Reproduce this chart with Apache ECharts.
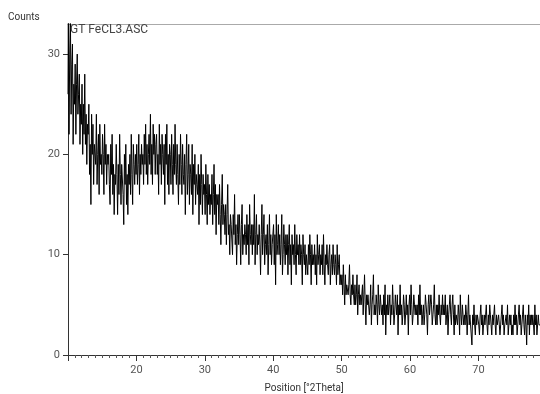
<!DOCTYPE html>
<html>
<head>
<meta charset="utf-8">
<script src="https://cdn.jsdelivr.net/npm/echarts@6/dist/echarts.min.js"></script>
<style>
  html, body { margin: 0; padding: 0; background: #fff; }
  #chart { width: 540px; height: 394px; }
</style>
</head>
<body>
<div id="chart"></div>
<script>
// scan grid: 10.0 .. 79.0 °2Theta, 0.1° steps
const startPos = 10;
const stepSize = 0.1;

// counts, one row per degree
const counts = [
  26, 34, 22, 30, 34, 24, 29, 31, 21, 27,
  25, 29, 22, 27, 30, 24, 26, 28, 21, 25,
  23, 27, 20, 25, 22, 28, 21, 24, 19, 23,
  22, 25, 18, 21, 15, 24, 20, 23, 17, 21,
  21, 19, 24, 17, 20, 22, 16, 23, 19, 20,
  18, 22, 20, 16, 23, 19, 21, 17, 20, 19,
  20, 17, 15, 21, 18, 22, 16, 19, 14, 18,
  17, 21, 18, 14, 19, 16, 22, 18, 15, 19,
  19, 16, 13, 20, 17, 21, 15, 18, 14, 19,
  17, 20, 16, 22, 18, 15, 21, 19, 17, 20,
  18, 21, 17, 19, 22, 16, 20, 18, 21, 19,
  20, 17, 22, 19, 23, 18, 21, 17, 20, 22,
  19, 24, 18, 21, 17, 23, 20, 22, 18, 21,
  22, 18, 20, 16, 23, 19, 21, 17, 22, 20,
  18, 21, 15, 22, 19, 23, 17, 20, 16, 21,
  20, 17, 22, 19, 16, 21, 18, 23, 19, 17,
  21, 18, 15, 20, 17, 22, 19, 16, 21, 18,
  17, 20, 14, 19, 22, 16, 18, 21, 15, 19,
  18, 16, 21, 14, 19, 17, 20, 15, 18, 17,
  16, 19, 13, 18, 15, 20, 17, 14, 18, 16,
  17, 14, 19, 16, 13, 18, 15, 17, 14, 16,
  15, 18, 13, 16, 19, 14, 17, 12, 16, 15,
  16, 13, 17, 14, 11, 15, 18, 13, 15, 14,
  12, 15, 11, 14, 17, 12, 13, 10, 14, 13,
  13, 10, 14, 12, 16, 11, 13, 9, 12, 14,
  11, 14, 12, 9, 13, 15, 10, 12, 11, 13,
  12, 10, 14, 11, 13, 9, 15, 12, 11, 13,
  10, 13, 11, 16, 9, 12, 14, 10, 12, 11,
  13, 11, 8, 12, 15, 10, 12, 14, 9, 11,
  12, 10, 13, 8, 11, 14, 10, 12, 9, 11,
  11, 13, 9, 12, 7, 14, 10, 11, 13, 10,
  12, 9, 11, 14, 8, 10, 13, 11, 9, 12,
  10, 12, 8, 11, 13, 9, 11, 7, 12, 10,
  11, 9, 13, 10, 8, 12, 10, 11, 9, 12,
  9, 11, 10, 7, 12, 10, 9, 11, 8, 10,
  10, 8, 11, 9, 12, 10, 7, 11, 9, 10,
  9, 11, 8, 10, 7, 12, 9, 10, 11, 8,
  10, 9, 11, 8, 12, 9, 7, 10, 9, 11,
  9, 8, 10, 11, 7, 9, 10, 8, 11, 9,
  8, 10, 9, 7, 11, 8, 9, 10, 7, 8,
  7, 8, 6, 9, 7, 5, 8, 6, 7, 7,
  6, 7, 9, 6, 5, 7, 6, 8, 6, 5,
  7, 5, 6, 8, 4, 6, 7, 5, 6, 5,
  5, 7, 4, 6, 8, 5, 3, 6, 5, 6,
  6, 4, 5, 7, 3, 5, 6, 8, 4, 5,
  4, 6, 5, 3, 7, 5, 4, 6, 5, 4,
  5, 3, 6, 4, 7, 2, 5, 4, 6, 4,
  4, 6, 3, 5, 4, 7, 5, 3, 4, 6,
  5, 4, 6, 2, 5, 4, 7, 4, 5, 3,
  4, 6, 5, 3, 4, 6, 4, 5, 2, 5,
  6, 4, 7, 5, 3, 4, 6, 5, 4, 5,
  4, 5, 3, 6, 4, 7, 4, 5, 3, 4,
  5, 3, 4, 6, 5, 4, 2, 5, 6, 4,
  4, 6, 5, 3, 4, 5, 7, 4, 3, 5,
  3, 5, 4, 6, 4, 3, 5, 4, 6, 4,
  5, 4, 6, 3, 4, 5, 2, 4, 5, 6,
  4, 3, 5, 6, 4, 2, 5, 3, 4, 4,
  3, 5, 4, 2, 6, 4, 3, 5, 4, 3,
  4, 3, 5, 4, 2, 4, 6, 3, 4, 3,
  3, 1, 4, 3, 5, 3, 2, 4, 3, 4,
  4, 3, 2, 4, 5, 3, 4, 2, 3, 4,
  3, 4, 5, 3, 2, 4, 3, 5, 4, 3,
  2, 4, 3, 4, 5, 3, 2, 4, 3, 3,
  4, 3, 2, 3, 4, 5, 3, 4, 2, 3,
  3, 4, 3, 5, 2, 3, 4, 3, 4, 2,
  3, 2, 4, 3, 5, 3, 4, 2, 3, 4,
  5, 3, 4, 2, 3, 4, 5, 3, 2, 4,
  3, 1, 4, 3, 5, 2, 4, 3, 4, 3,
  4, 3, 2, 5, 3, 4, 2, 3, 4, 3,
  3
];

const xTicks = [20, 30, 40, 50, 60, 70];
const yTicks = [0, 10, 20, 30];

const points = counts.map((c, i) => [+(startPos + i * stepSize).toFixed(1), c]);

const chart = echarts.init(document.getElementById("chart"), null, { renderer: "canvas" });

const labelStyle = { color: "#555", fontSize: 11, fontFamily: "Roboto" };

chart.setOption({
  animation: false,
  grid: { left: 68, right: 0, top: 24, bottom: 39, outerBoundsMode: "none" },
  title: {
    text: "GT FeCL3.ASC",
    left: 65,
    top: 19,
    textStyle: { color: "#444", fontSize: 12, fontWeight: "normal", fontFamily: "Roboto" }
  },
  graphic: [
    { type: "text", left: 8, top: 12, style: { text: "Counts", fill: "#333", fontSize: 10, fontFamily: "Roboto" } }
  ],
  xAxis: [
    {
      type: "value",
      min: 10,
      max: 79,
      interval: 10,
      minorTick: { show: true, splitNumber: 10, length: 3, lineStyle: { color: "#555" } },
      axisLine: { lineStyle: { color: "#333", width: 1 } },
      axisTick: { length: 6, lineStyle: { color: "#333" } },
      axisLabel: Object.assign({
        showMinLabel: false,
        showMaxLabel: false,
        margin: 10,
        formatter: (v) => (xTicks.indexOf(v) >= 0 ? String(v) : "")
      }, labelStyle),
      splitLine: { show: false },
      name: "Position [°2Theta]",
      nameLocation: "middle",
      nameGap: 28,
      nameTextStyle: { color: "#333", fontSize: 10, fontFamily: "Roboto" }
    },
    {
      type: "value",
      position: "top",
      min: 10,
      max: 79,
      axisLine: { show: true, onZero: false, lineStyle: { color: "#aaa" } },
      axisTick: { show: false },
      axisLabel: { show: false },
      splitLine: { show: false }
    }
  ],
  yAxis: {
    type: "value",
    min: 0,
    max: 33,
    interval: 10,
    axisLine: { show: true, lineStyle: { color: "#333", width: 1 } },
    axisTick: { show: true, length: 5, lineStyle: { color: "#333" } },
    axisLabel: Object.assign({
      margin: 8,
      showMaxLabel: false,
      formatter: (v) => (yTicks.indexOf(v) >= 0 ? String(v) : "")
    }, labelStyle),
    splitLine: { show: false }
  },
  series: [
    {
      type: "line",
      data: points,
      step: "middle",
      showSymbol: false,
      symbol: "none",
      clip: true,
      lineStyle: { color: "#000", width: 1 }
    }
  ]
});
</script>
</body>
</html>
